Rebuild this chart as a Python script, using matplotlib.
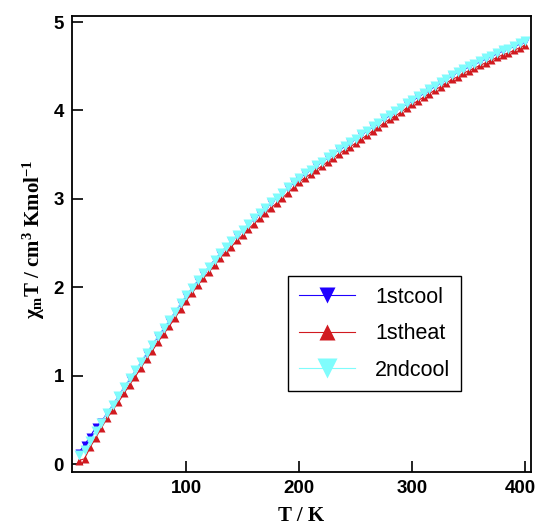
import numpy as np
import matplotlib; matplotlib.use('Agg')
import matplotlib.pyplot as plt
from matplotlib.transforms import ScaledTranslation

plt.rcParams.update({'font.family': 'Liberation Sans',
                     'mathtext.fontset': 'custom',
                     'mathtext.rm': 'Liberation Serif:bold',
                     'mathtext.it': 'Liberation Serif:bold',
                     'mathtext.bf': 'Liberation Serif:bold'})

# temperature grid, K
T = list(range(5, 401, 5))

heat1 = [0.04, 0.06, 0.19, 0.30, 0.41, 0.52, 0.61, 0.70, 0.80, 0.90,
         0.99, 1.09, 1.19, 1.28, 1.38, 1.47, 1.56, 1.65, 1.75, 1.85,
         1.93, 2.02, 2.10, 2.17, 2.25, 2.33, 2.40, 2.46, 2.53, 2.59,
         2.66, 2.72, 2.78, 2.84, 2.90, 2.95, 3.01, 3.07, 3.13, 3.19,
         3.24, 3.28, 3.33, 3.37, 3.42, 3.46, 3.51, 3.55, 3.59, 3.63,
         3.68, 3.72, 3.77, 3.81, 3.86, 3.90, 3.94, 3.98, 4.03, 4.07,
         4.11, 4.15, 4.19, 4.23, 4.27, 4.31, 4.35, 4.38, 4.42, 4.45,
         4.48, 4.51, 4.54, 4.57, 4.60, 4.63, 4.65, 4.68, 4.71, 4.74]

cool2 = [0.10, 0.16, 0.26, 0.37, 0.47, 0.58, 0.67, 0.77, 0.87, 0.97,
         1.06, 1.16, 1.26, 1.35, 1.45, 1.54, 1.63, 1.72, 1.82, 1.91,
         1.99, 2.08, 2.16, 2.23, 2.31, 2.39, 2.46, 2.52, 2.59, 2.65,
         2.72, 2.78, 2.84, 2.90, 2.96, 3.01, 3.07, 3.13, 3.19, 3.24,
         3.29, 3.33, 3.38, 3.42, 3.47, 3.51, 3.56, 3.60, 3.64, 3.68,
         3.73, 3.77, 3.82, 3.86, 3.91, 3.95, 3.99, 4.03, 4.08, 4.12,
         4.16, 4.20, 4.24, 4.28, 4.32, 4.36, 4.40, 4.43, 4.47, 4.50,
         4.53, 4.56, 4.59, 4.62, 4.65, 4.68, 4.70, 4.73, 4.76, 4.78]

cool1 = [0.13, 0.22, 0.31, 0.42, 0.48, 0.58, 0.67, 0.77, 0.87, 0.96,
         1.06, 1.15, 1.25, 1.35, 1.44, 1.53, 1.62, 1.72, 1.81, 1.90,
         1.99, 2.07, 2.15, 2.23, 2.31, 2.38, 2.45, 2.52, 2.58, 2.65,
         2.71, 2.77, 2.83, 2.89, 2.95, 3.01, 3.07, 3.12, 3.18, 3.23,
         3.28, 3.33, 3.37, 3.42, 3.46, 3.51, 3.55, 3.59, 3.63, 3.68,
         3.72, 3.77, 3.81, 3.86, 3.90, 3.94, 3.99, 4.03, 4.07, 4.11,
         4.15, 4.19, 4.23, 4.27, 4.31, 4.35, 4.39, 4.43, 4.46, 4.49,
         4.52, 4.55, 4.58, 4.61, 4.64, 4.67, 4.70, 4.72, 4.75, 4.77]

fig = plt.figure(figsize=(5.38, 5.28), dpi=100)
ax = fig.add_axes([0.134, 0.106, 0.853, 0.864])

ax.plot(T, cool1, color='#1f00ff', lw=0.8, marker='v', ms=5.5, mec='none', label='1stcool')
ax.plot(T, heat1, color='#d11a20', lw=0.8, marker='^', ms=5.5, mec='none', label='1stheat')
ax.plot(T, cool2, color='#7ffcfc', lw=0.8, marker='v', ms=6.5, mec='none', label='2ndcool')

ax.set_xlim(-1, 405)
ax.set_ylim(-0.09, 5.07)
ax.set_xticks([100, 200, 300, 400])
ax.set_yticks([0, 1, 2, 3, 4, 5])
ax.tick_params(direction='in', length=8, width=1.2, labelsize=13.5, pad=6)
for lab in ax.get_xticklabels() + ax.get_yticklabels():
    lab.set_fontweight('bold')
# last x label sits at the figure edge, nudge it in a little
last = ax.get_xticklabels()[-1]
last.set_transform(last.get_transform() + ScaledTranslation(-5 / 100, 0, fig.dpi_scale_trans))
for s in ax.spines.values():
    s.set_linewidth(1.3)

ax.set_xlabel('T / K', fontsize=15, fontweight='bold', family='Liberation Serif', labelpad=6)
ax.set_ylabel('χ$_{\\rm m}$T / cm$^{3}$ Kmol$^{-1}$', fontsize=15, fontweight='bold',
              family='Liberation Serif')
ax.yaxis.set_label_coords(-0.055, 0.51)

leg = ax.legend(loc='upper left', bbox_to_anchor=(0.471, 0.430), fontsize=15.5,
                fancybox=False, edgecolor='black', framealpha=1, handlelength=2.6,
                markerscale=2.2, borderpad=0.5, labelspacing=0.72, handletextpad=0.93,
                borderaxespad=0)
leg.get_frame().set_linewidth(1.0)

fig.savefig('out.png', dpi=100, facecolor='white')
